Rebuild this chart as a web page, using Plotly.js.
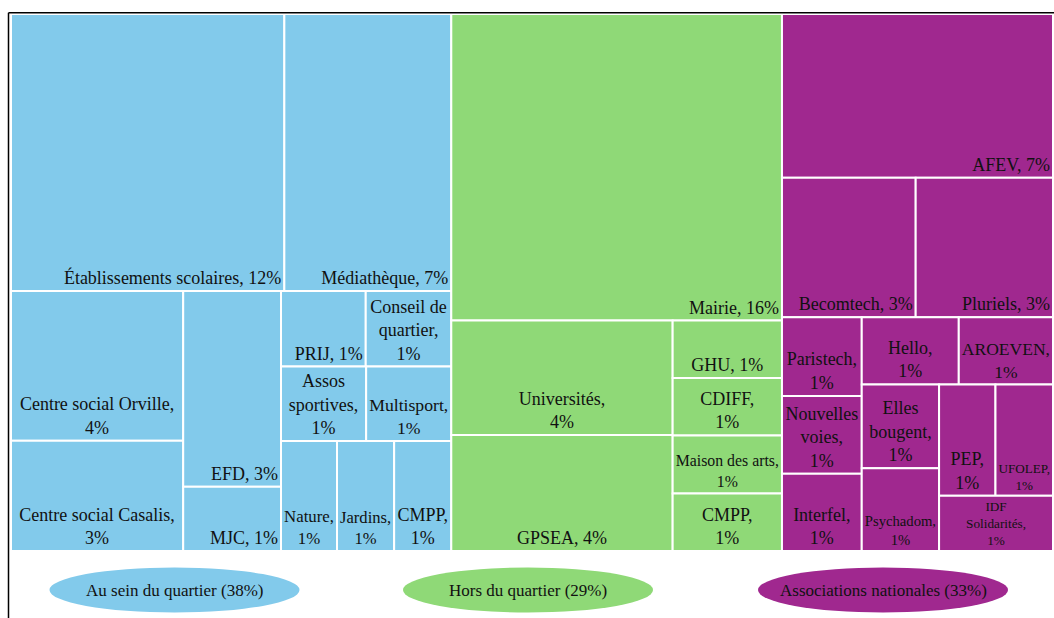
<!DOCTYPE html>
<html><head><meta charset="utf-8">
<script src="https://cdn.plot.ly/plotly-3.0.1.min.js"></script>
<style>
html,body{margin:0;padding:0;overflow:hidden;background:#fff;width:1054px;height:618px}
#chart{width:1054px;height:618px}
</style>
</head><body><div id="chart"></div>
<script>
// ---- data ----
const groupNames  = ['Au sein du quartier', 'Hors du quartier', 'Associations nationales'];
const groupShares = [38, 29, 33];

const leafNames = [
  'Établissements scolaires','Médiathèque','Centre social Orville','Centre social Casalis','EFD','MJC',
  'PRIJ','Conseil de quartier','Assos sportives','Multisport','Nature','Jardins','CMPP',
  'Mairie','Universités','GPSEA','GHU','CDIFF','Maison des arts','CMPP',
  'AFEV','Becomtech','Pluriels','Paristech','Nouvelles voies','Interfel','Hello','AROEVEN',
  'Elles bougent','Psychadom','PEP','UFOLEP','IDF Solidarités'
];
const leafGroup = [
  0,0,0,0,0,0,0,0,0,0,0,0,0,
  1,1,1,1,1,1,1,
  2,2,2,2,2,2,2,2,2,2,2,2,2
];
const leafValues = [
  12.05, 7.36, 4.11, 3.02, 3.05, 1.00, 1.02, 1.03, 1.01, 1.01, 0.98, 1.00, 1.00,
  16.14, 4.03, 4.09, 1.00, 1.00, 1.01, 1.00,
  7.06, 2.97, 3.05, 1.00, 0.99, 0.98, 1.04, 1.01, 1.03, 1.02, 1.00, 1.02, 1.00
];
const leafText = [
  'Établissements scolaires, 12%','Médiathèque, 7%','Centre social Orville,<br>4%','Centre social Casalis,<br>3%',
  'EFD, 3%','MJC, 1%','PRIJ, 1%','Conseil de<br>quartier,<br>1%','Assos<br>sportives,<br>1%','Multisport,<br>1%',
  'Nature,<br>1%','Jardins,<br>1%','CMPP,<br>1%',
  'Mairie, 16%','Universités,<br>4%','GPSEA, 4%','GHU, 1%','CDIFF,<br>1%','Maison des arts,<br>1%','CMPP,<br>1%',
  'AFEV, 7%','Becomtech, 3%','Pluriels, 3%','Paristech,<br>1%','Nouvelles<br>voies,<br>1%','Interfel,<br>1%',
  'Hello,<br>1%','AROEVEN,<br>1%','Elles<br>bougent,<br>1%','Psychadom,<br>1%','PEP,<br>1%','UFOLEP,<br>1%',
  'IDF<br>Solidarités,<br>1%'
];
// labels that sit in the bottom-right corner of their tile (the others are centred)
const rightAligned = ['Établissements scolaires','Médiathèque','EFD','MJC','PRIJ','Mairie','AFEV','Becomtech','Pluriels'];

// ---- styles ----
const groupColors = ['#82CAEB', '#8FD977', '#A0288F'];
const FONT = 'Liberation Serif, Times New Roman, serif';

// ---- build treemap arrays ----
const ids = [], labels = [], parents = [], values = [], colors = [], textRight = [], textCenter = [];
groupNames.forEach((g, i) => {
  ids.push('g' + i); labels.push(g); parents.push(''); values.push(0); colors.push(groupColors[i]);
  textRight.push(''); textCenter.push('');
});
leafNames.forEach((n, i) => {
  ids.push('l' + i); labels.push(n); parents.push('g' + leafGroup[i]);
  values.push(leafValues[i]); colors.push(groupColors[leafGroup[i]]);
  const r = rightAligned.includes(n) && leafGroup[i] !== 1 || (n === 'Mairie');
  textRight.push(r ? leafText[i] : '');
  textCenter.push(r ? '' : leafText[i]);
});

const common = {
  type: 'treemap',
  ids, labels, parents, values,
  branchvalues: 'remainder',
  sort: false,
  textinfo: 'text',
  textfont: {family: FONT, size: 18, color: '#111'},
  insidetextfont: {family: FONT, size: 18, color: '#111'},
  tiling: {packing: 'squarify', squarifyratio: 1, pad: 0},
  pathbar: {visible: false},
  leaf: {opacity: 1},
  hoverinfo: 'skip'
};
// tiles + bottom-right labels
const tiles = Object.assign({}, common, {
  text: textRight,
  textposition: 'bottom right',
  marker: {colors, line: {color: '#ffffff', width: 2}, pad: {t: 0, l: 0, r: 0, b: 0}},
  root: {color: '#ffffff'}
});
// same tiling, transparent, carrying the centred labels
const centred = Object.assign({}, common, {
  text: textCenter,
  textposition: 'bottom center',
  marker: {colors: colors.map(() => 'rgba(0,0,0,0)'), line: {color: 'rgba(0,0,0,0)', width: 2}, pad: {t: 0, l: 0, r: 0, b: 0}},
  root: {color: 'rgba(0,0,0,0)'}
});

// page geometry (pixels) for the frame and the legend pills
const W = 1054, H = 618;
const L = 11, PW = 1042, PB = 551, PT = 14, PH = PB - PT;
const px = v => (v - L) / PW, py = v => (PB - v) / PH;
const pillCenters = [174.5, 528, 883];
const shapes = [
  {type: 'line', xref: 'paper', yref: 'paper', x0: px(8.5), x1: px(8.5), y0: py(12.7), y1: py(640), line: {color: '#000', width: 1.5}},
  {type: 'line', xref: 'paper', yref: 'paper', x0: px(8.5), x1: px(1090), y0: py(12.7), y1: py(12.7), line: {color: '#000', width: 1.5}}
];
const annotations = [];
groupNames.forEach((g, i) => {
  const c = pillCenters[i];
  shapes.push({type: 'circle', xref: 'paper', yref: 'paper', x0: px(c - 125), x1: px(c + 125),
    y0: py(612.5), y1: py(567.5), fillcolor: groupColors[i], line: {width: 0}, layer: 'below'});
  annotations.push({xref: 'paper', yref: 'paper', x: px(c), y: py(590), xanchor: 'center', yanchor: 'middle',
    showarrow: false, text: g + ' (' + groupShares[i] + '%)', font: {family: FONT, size: 17, color: '#111'}});
});

Plotly.newPlot('chart', [tiles, centred], {
  width: W, height: H,
  margin: {l: L, r: W - L - PW, t: PT, b: H - PB},
  paper_bgcolor: '#ffffff',
  font: {family: FONT},
  shapes, annotations,
  showlegend: false
}, {displayModeBar: false, staticPlot: true});
</script>
</body></html>
